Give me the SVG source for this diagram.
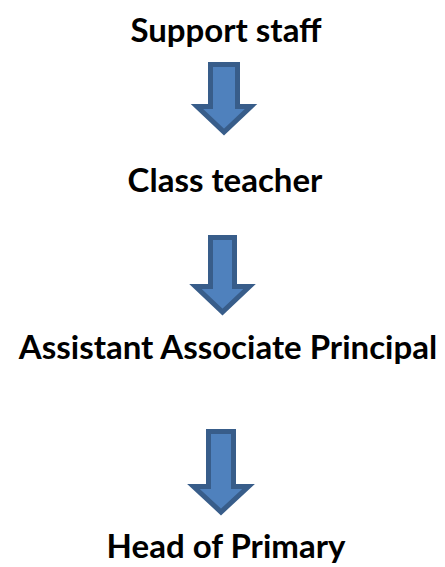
<svg xmlns="http://www.w3.org/2000/svg" width="445" height="567" viewBox="0 0 445 567">
<style>
.lbl{font-family:"Lato","Open Sans","DejaVu Sans",sans-serif;font-weight:700;font-size:33px;fill:#000;text-anchor:middle}
.arr{fill:#4F81BD;stroke:#385D8A;stroke-width:5;stroke-linejoin:miter}
</style>
<rect width="445" height="567" fill="#fff"/>
<g id="n1"><text class="lbl" x="226" y="42">Support staff</text></g>
<g id="n2"><text class="lbl" x="225" y="192">Class teacher</text></g>
<g id="n3"><text class="lbl" x="228" y="359">Assistant Associate Principal</text></g>
<g id="n4"><text class="lbl" x="226" y="558">Head of Primary</text></g>
<g id="connectors">
<path class="arr" d="M210.5,64.5 H237.5 V106.5 H251 L224,132 L197,106.5 H210.5 Z"/>
<path class="arr" d="M210.5,237.5 H234.5 V286.5 H249.5 L222.5,312 L195.5,286.5 H210.5 Z"/>
<path class="arr" d="M208.5,431.5 H233.5 V486.5 H248.5 L221,512 L193.5,486.5 H208.5 Z"/>
</g>
</svg>
